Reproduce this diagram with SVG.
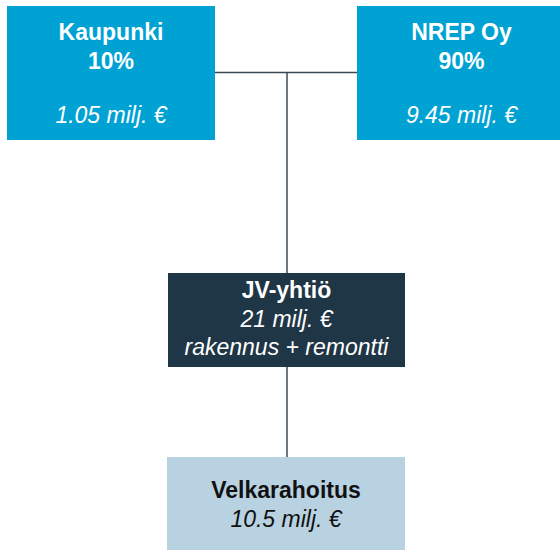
<svg xmlns="http://www.w3.org/2000/svg" width="560" height="550" viewBox="0 0 560 550">
<style>
.t{font-family:"Liberation Sans",Arial,sans-serif;font-size:23px;text-anchor:middle}
.b{font-weight:bold}
.i{font-style:italic}
.w{fill:#ffffff}
.d{fill:#111111}
.ln{stroke:#3c4a55;stroke-width:1.5;fill:none}
</style>
<rect width="560" height="550" fill="#ffffff"/>
<g id="connectors">
<line class="ln" x1="215" y1="72.5" x2="357" y2="72.5"/>
<line class="ln" x1="287" y1="72.5" x2="287" y2="273"/>
<line class="ln" x1="287" y1="367" x2="287" y2="457"/>
</g>
<g id="kaupunki">
<rect x="7" y="6" width="208" height="134" fill="#00A2D3"/>
<text class="t b w" x="111" y="40">Kaupunki</text>
<text class="t b w" x="111" y="69">10%</text>
<text class="t i w" x="111" y="123">1.05 milj. €</text>
</g>
<g id="nrep">
<rect x="357" y="6" width="209" height="134" fill="#00A2D3"/>
<text class="t b w" x="461.5" y="40">NREP Oy</text>
<text class="t b w" x="461.5" y="69">90%</text>
<text class="t i w" x="461.5" y="123">9.45 milj. €</text>
</g>
<g id="jv">
<rect x="168" y="273" width="237" height="94" fill="#1F3646"/>
<text class="t b w" x="286.5" y="298">JV-yhtiö</text>
<text class="t i w" x="286.5" y="327">21 milj. €</text>
<text class="t i w" x="286.5" y="355">rakennus + remontti</text>
</g>
<g id="velka">
<rect x="167" y="457" width="238" height="93" fill="#B9D2E2"/>
<text class="t b d" x="286" y="498">Velkarahoitus</text>
<text class="t i d" x="286" y="527">10.5 milj. €</text>
</g>
</svg>
